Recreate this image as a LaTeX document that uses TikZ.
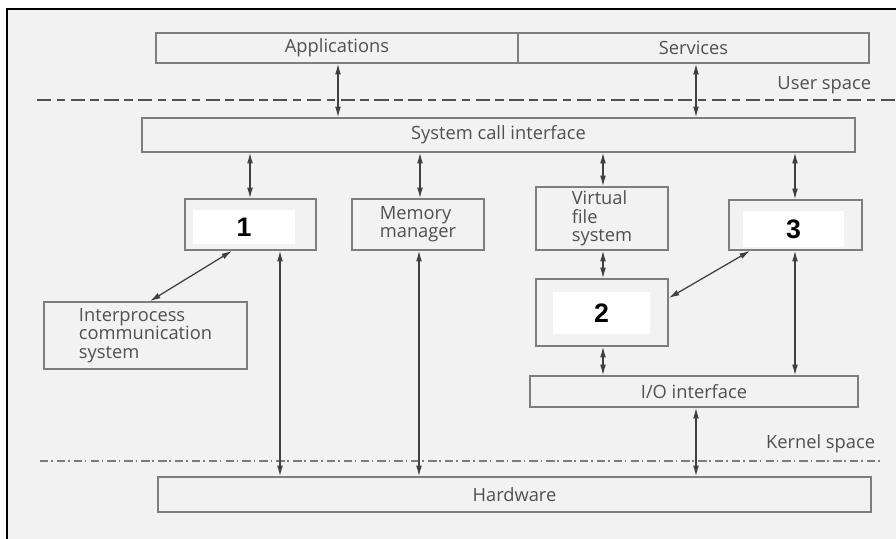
\documentclass[tikz,border=0pt]{standalone}
\usepackage{fontspec}
\setmainfont{Open Sans}
\newfontfamily\numfont{Liberation Sans}
\usetikzlibrary{fit,arrows.meta}
\definecolor{linegray}{HTML}{7E7E7E}
\definecolor{textgray}{HTML}{505050}
\definecolor{paper}{HTML}{F2F2F2}

\begin{document}
\begin{tikzpicture}[x=0.025cm,y=-0.025cm,
	box/.style={draw=linegray, line width=1.2pt, inner sep=0pt},
	link/.style={draw=black!75, line width=0.9pt, {Latex[length=7.5pt,width=4.2pt]}-{Latex[length=7.5pt,width=4.2pt]}},
	tag/.style={text=textgray, font=\fontsize{13}{13}\selectfont},
	numbox/.style={fill=white, draw=none, inner sep=0pt},
	numtext/.style={text=black, font=\numfont\bfseries\fontsize{19}{19}\selectfont}]
		\useasboundingbox (0,0) rectangle (896,539);
		\fill[paper] (7,9) rectangle (896,539);
		\draw[black, line width=1.5pt] (7,539) -- (7,9) -- (896,9);
		
		\node[box, fit={(156,33) (518,63)}, label={[tag]center:Applications}] (apps) {};
		\node[box, fit={(518,33) (869,63)}, label={[tag]center:Services}] (serv) {};
		\node[box, fit={(142,118) (855,152)}, label={[tag]center:System call interface}] (sci) {};
		\node[box, fit={(185,199) (316,250)}] (b1) {};
		\node[box, fit={(352,199) (484,250)}, label={[tag,align=left]center:Memory\\manager}] (mem) {};
		\node[box, fit={(536,187) (668,250)}, label={[tag,align=left]center:Virtual\\file\\system}] (vfs) {};
		\node[box, fit={(729,200) (862,250)}] (b3) {};
		\node[box, fit={(44,302) (247,369)}, label={[tag,align=left]center:Interprocess\\communication\\system}] (ipc) {};
		\node[box, fit={(536,279) (668,346)}] (b2) {};
		\node[box, fit={(530,376) (858,407)}, label={[tag]center:I/O interface}] (io) {};
		\node[box, fit={(158,477) (871,512)}, label={[tag]center:Hardware}] (hw) {};
		
		\node[numbox, fit={(193,210) (295,244)}, label={[numtext]center:1}] (n1) {};
		\node[numbox, fit={(553,292) (650,334)}, label={[numtext]center:2}] (n2) {};
		\node[numbox, fit={(743,211) (844,247)}, label={[numtext]center:3}] (n3) {};
		
		\node[tag, anchor=east] (user) at (876,85) {User space};
		\node[tag, anchor=east] (kern) at (880,444) {Kernel space};
		\coordinate (ul) at (37,100);
		\coordinate (ur) at (896,100);
		\coordinate (kl) at (40,461);
		\coordinate (kr) at (880,461);
		\draw[textgray, line width=0.8pt, dash pattern=on 10pt off 4pt on 6pt off 4pt] (ul) -- (ur);
		\draw[textgray!75, line width=0.8pt, dash pattern=on 6pt off 2pt on 1pt off 3pt] (kl) -- (kr);
		
		\draw[link] (apps.south -| 338,0) -- (sci.north -| 338,0);
		\draw[link] (serv.south -| 696,0) -- (sci.north -| 696,0);
		\draw[link] (sci.south -| 250,0) -- (b1.north -| 250,0);
		\draw[link] (sci.south -| 420,0) -- (mem.north -| 420,0);
		\draw[link] (sci.south -| 603,0) -- (vfs.north -| 603,0);
		\draw[link] (sci.south -| 795,0) -- (b3.north -| 795,0);
		\draw[link] (b1.south -| 232,0) -- (ipc.north -| 150,0);
		\draw[link] (b3.south -| 750,0) -- (b2.east |- 0,298);
		\draw[link] (b1.south -| 280,0) -- (hw.north -| 280,0);
		\draw[link] (mem.south -| 419,0) -- (hw.north -| 419,0);
		\draw[link] (vfs.south -| 603,0) -- (b2.north -| 603,0);
		\draw[link] (b2.south -| 603,0) -- (io.north -| 603,0);
		\draw[link] (b3.south -| 795,0) -- (io.north -| 795,0);
		\draw[link] (io.south -| 696,0) -- (hw.north -| 696,0);
	\end{tikzpicture}
\end{document}
